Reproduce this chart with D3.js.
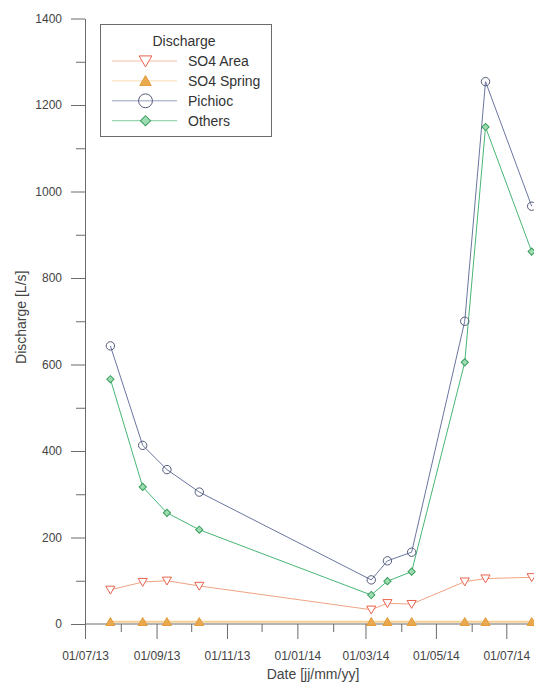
<!DOCTYPE html>
<html>
<head>
<meta charset="utf-8">
<script src="https://cdn.jsdelivr.net/npm/d3@7/dist/d3.min.js"></script>
<style>
  html, body { margin: 0; padding: 0; background: #fff; }
  svg { display: block; font-family: "Liberation Sans", Arial, sans-serif; }
</style>
</head>
<body>
<svg id="chart" width="534" height="683"></svg>
<script>
// ---- data ----
const dates = ["2013-07-23","2013-08-20","2013-09-10","2013-10-08","2014-03-06","2014-03-20","2014-04-10","2014-05-26","2014-06-13","2014-07-23"];
const so4Area   = [79, 97, 100, 88, 33, 48, 46, 98, 105, 108];
const so4Spring = [5, 5, 5, 5, 5, 5, 5, 5, 5, 5];
const pichioc   = [643, 413, 357, 305, 102, 146, 166, 700, 1254, 966];
const others    = [566, 317, 257, 218, 67, 99, 121, 605, 1149, 861];
const seriesNames = ["SO4 Area", "SO4 Spring", "Pichioc", "Others"];
const yMajorTicks = [0, 200, 400, 600, 800, 1000, 1200, 1400];
const yMinorTicks = [100, 300, 500, 700, 900, 1100, 1300];
const xTickDates = ["2013-07-01","2013-08-01","2013-09-01","2013-10-01","2013-11-01","2013-12-01","2014-01-01","2014-02-01","2014-03-01","2014-04-01","2014-05-01","2014-06-01","2014-07-01"];

const parse = d3.utcParse("%Y-%m-%d");
const fmt = d3.utcFormat("%d/%m/%y");

const svg = d3.select("#chart");
const x0 = 85, y0 = 624, yTop = 18.5;

const x = d3.scaleUtc().domain([parse("2013-07-01"), parse("2014-07-01")]).range([x0, 506.3]);
const y = d3.scaleLinear().domain([0, 1400]).range([y0, yTop]);

const axisColor = "#6b6b6b";
const textColor = "#444";

const styles = {
  "SO4 Area":   {line: "#f0a284", stroke: "#e8624c", fill: "#fff", sym: "tri-down", w: 1},
  "SO4 Spring": {line: "#f6cf92", stroke: "#e39a3a", fill: "#eaa94e", sym: "tri-up", w: 2},
  "Pichioc":    {line: "#6a76a0", stroke: "#555b7a", fill: "none", sym: "circle", w: 1},
  "Others":     {line: "#46b676", stroke: "#3a9e5e", fill: "#9edcb2", sym: "diamond", w: 1}
};
const values = {"SO4 Area": so4Area, "SO4 Spring": so4Spring, "Pichioc": pichioc, "Others": others};

function markerPath(sym, scale) {
  if (sym === "tri-down" || sym === "tri-up") return d3.symbol(d3.symbolTriangle, 36 * scale * scale)();
  if (sym === "diamond") return d3.symbol(d3.symbolSquare, 26 * scale * scale)();
  return null;
}
function drawMarker(g, sym, cx, cy, st, scale, rScale) {
  if (sym === "circle") {
    g.append("circle").attr("cx", cx).attr("cy", cy).attr("r", 4.2 * (rScale || scale))
      .attr("fill", st.fill).attr("stroke", st.stroke).attr("stroke-width", 1);
  } else {
    let rot = sym === "tri-down" ? 180 : (sym === "diamond" ? 45 : 0);
    let dy = sym === "tri-down" ? -1 * scale : (sym === "tri-up" ? 1 * scale : 0);
    g.append("path").attr("d", markerPath(sym, scale))
      .attr("transform", `translate(${cx},${cy + dy}) rotate(${rot})`)
      .attr("fill", st.fill).attr("stroke", st.stroke).attr("stroke-width", 1);
  }
}

// ---- axes ----
const yAxis = svg.append("g").attr("transform", `translate(${x0},0)`)
  .call(d3.axisLeft(y).tickValues(yMajorTicks).tickSize(14).tickSizeOuter(0).tickPadding(9).tickFormat(d3.format("d")));
yAxis.select(".domain").attr("stroke", axisColor);
yAxis.selectAll(".tick line").attr("stroke", axisColor);
yAxis.selectAll(".tick text").attr("fill", textColor).style("font-size", "12px");
const yMinor = svg.append("g").attr("transform", `translate(${x0},0)`)
  .call(d3.axisLeft(y).tickValues(yMinorTicks).tickSize(9).tickFormat(""));
yMinor.select(".domain").remove();
yMinor.selectAll(".tick line").attr("stroke", axisColor);

// x axis baseline extends to the right edge
svg.append("line").attr("x1", x0).attr("x2", 534).attr("y1", y0).attr("y2", y0)
  .attr("stroke", axisColor).attr("stroke-width", 1);

const xT = xTickDates.map(parse);
const xAxis = svg.append("g").attr("transform", `translate(0,${y0})`)
  .call(d3.axisBottom(x).tickValues(xT).tickSizeOuter(0)
    .tickSize(15).tickPadding(12)
    .tickFormat((d, i) => i % 2 === 0 ? fmt(d) : ""));
xAxis.select(".domain").remove();
xAxis.selectAll(".tick line").attr("stroke", axisColor)
  .attr("y2", (d, i) => i % 2 === 0 ? 15 : 8);
xAxis.selectAll(".tick text").attr("fill", textColor).style("font-size", "12px");

// axis titles
svg.append("text").attr("x", 313).attr("y", 679).attr("text-anchor", "middle")
  .attr("fill", textColor).style("font-size", "14px").text("Date [jj/mm/yy]");
svg.append("text").attr("transform", `translate(26,${(y0 + yTop) / 2 - 4}) rotate(-90)`)
  .attr("text-anchor", "middle").attr("fill", textColor).style("font-size", "14px").text("Discharge [L/s]");

// ---- series ----
const drawOrder = ["SO4 Spring", "SO4 Area", "Others", "Pichioc"];
drawOrder.forEach(name => {
  const st = styles[name];
  const pts = dates.map((d, i) => [x(parse(d)), y(values[name][i])]);
  svg.append("path").attr("d", d3.line()(pts)).attr("fill", "none")
    .attr("stroke", st.line).attr("stroke-width", st.w);
});
drawOrder.forEach(name => {
  const st = styles[name];
  const g = svg.append("g");
  dates.forEach((d, i) => drawMarker(g, st.sym, x(parse(d)), y(values[name][i]), st, 1));
});

// ---- legend ----
const lg = svg.append("g");
lg.append("rect").attr("x", 100.5).attr("y", 24.5).attr("width", 171).attr("height", 112)
  .attr("fill", "#fff").attr("stroke", axisColor);
lg.append("text").attr("x", 184).attr("y", 46).attr("text-anchor", "middle")
  .attr("fill", "#333").style("font-size", "14px").text("Discharge");
seriesNames.forEach((name, i) => {
  const st = styles[name];
  const cy = 61 + i * 19.9;
  lg.append("line").attr("x1", 112).attr("x2", 177).attr("y1", cy).attr("y2", cy)
    .attr("stroke", st.line).attr("stroke-width", 1).attr("stroke-opacity", 0.7);
  drawMarker(lg, st.sym, 145.5, cy, st, st.sym === "tri-up" ? 1.25 : 1.4, 1.65);
  lg.append("text").attr("x", 188).attr("y", cy + 5).attr("fill", "#333")
    .style("font-size", "14px").text(name);
});
</script>
</body>
</html>
